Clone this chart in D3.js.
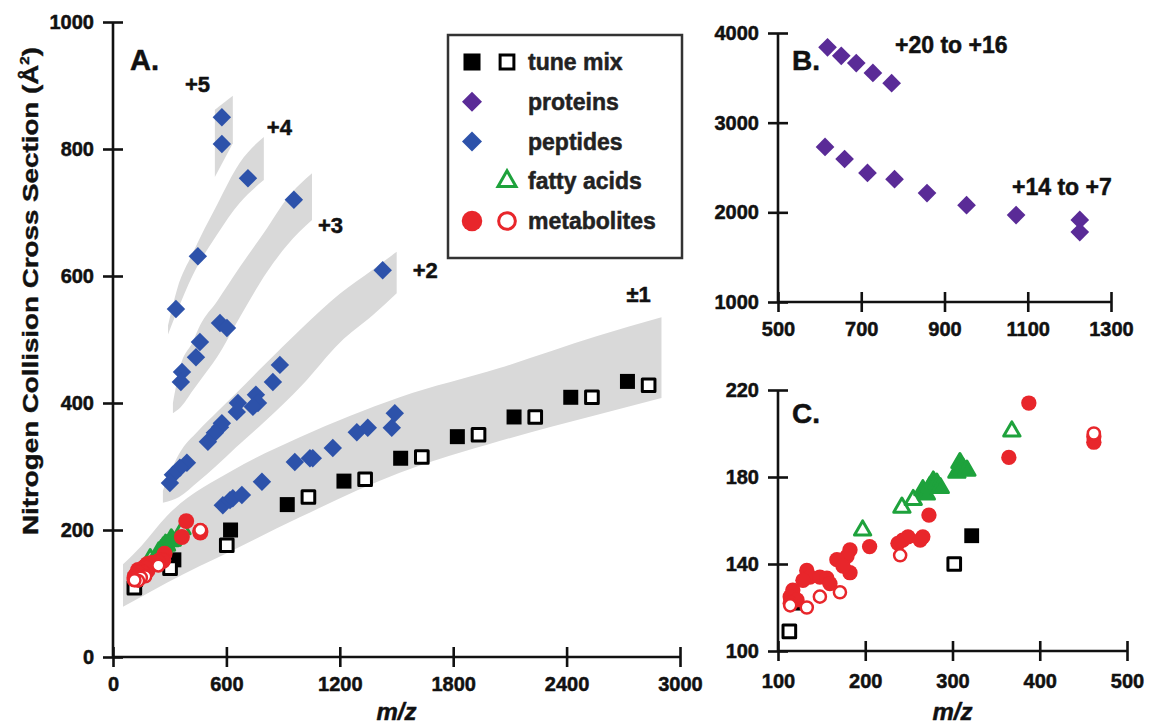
<!DOCTYPE html>
<html><head><meta charset="utf-8">
<script src="https://cdn.jsdelivr.net/npm/d3@7"></script>
<style>body{margin:0;background:#fff}</style>
</head><body>
<svg id="chart" width="1149" height="727"></svg>
<script>
// ---------------- DATA ----------------
// tune mix (filled = positive, open = negative): [m/z, CCS]
const tuneFilled = [[118,122],[322,153],[622,200],[922,240],[1222,277],[1522,313],[1822,347],[2122,378],[2422,409],[2722,434]];
const tuneOpen = [[113,109],[302,140],[602,176],[1034,252],[1334,280],[1634,315],[1934,350],[2234,378],[2534,409],[2834,428]];
// peptides (panel A)
const peptides5 = [[576,850],[576,808]];
const peptides4 = [[714,754],[449,631],[333,548]];
const peptides3 = [[957,720],[566,526],[603,518],[460,496],[439,472],[365,449],[359,433]];
const peptides2 = [[1427,609],[883,460],[846,433],[756,413],[767,400],[661,400],[655,386],[740,394],[576,368],[566,362],[539,353],[502,339],[391,306],[354,298],[317,287],[301,274]];
const peptides1 = [[581,239],[619,247],[634,250],[682,255],[788,276],[962,307],[1042,313],[1057,313],[1163,329],[1290,354],[1348,361],[1475,361],[1491,384]];
// proteins (panel B)
const proteinsHigh = [[619,3840],[652,3745],[688,3665],[728,3555],[773,3440]];
const proteinsLow = [[613,2730],[660,2595],[715,2440],[780,2370],[858,2215],[953,2080],[1072,1970],[1225,1915],[1225,1780]];
// fatty acids (isolated, open-looking) and (dense cluster, solid-looking)
const fattyAcids = [[368,201],[197,155.5],[242,166],[255,169.5]];
const fattyAcidsDense = [[266,174],[270,172],[274,175.5],[278,178],[282,177],[286,175],[305,182],[308.5,186.5],[312,184],[316.5,183]];
// metabolites
const metabFilled = [[387.5,214],[364.6,189],[462,198.5],[462,196],[273,162.5],[243,151],[249,152.5],[266,152.5],[263,151],[237.5,149.5],[205,148],[182.5,146.5],[179,143.5],[167.5,142],[182.5,136],[174.5,139],[133,137],[136.6,134],[148,134],[156,133.5],[159.5,131],[128.6,132.5],[117,128],[114,125],[121.8,123.5],[114,122]];
const metabOpen = [[240,144],[171,127],[148,125],[133,120],[114,121],[462,200]];
// trend bands: [m/z, lower CCS, upper CCS]
const band5 = [[539,756,862],[634,809,884]];
const band4 = [[291,508,522],[340,545,580],[420,600,635],[550,665,712],[670,715,778],[798,751,819]];
const band3 = [[317,384,400],[354,392,455],[423,420,497],[460,435,522],[550,472,560],[671,535,614],[814,606,675],[920,648,722],[1053,688,762]];
const band2 = [[264,243,262],[350,252,320],[450,276,356],[550,302,386],[650,330,415],[800,370,460],[1000,428,518],[1200,495,572],[1374,538,610],[1501,573,638]];
const band1 = [[53,79,146],[150,95,175],[285,117,222],[634,168,294],[988,220,346],[1517,290,409],[2045,340,455],[2558,381,505],[2902,408,535]];
// band labels: [text, m/z, CCS]
const bandLabels = [["+5",381,890],["+4",814,822],["+3",1084,668],["+2",1586,597],["\u00b11",2717,559]];
// ticks
const ticksAx = [0,600,1200,1800,2400,3000];
const ticksAy = [0,200,400,600,800,1000];
const ticksBx = [500,700,900,1100,1300];
const ticksBy = [1000,2000,3000,4000];
const ticksCx = [100,200,300,400,500];
const ticksCy = [100,140,180,220];
// legend
const legendItems = ["tune mix","proteins","peptides","fatty acids","metabolites"];

// ---------------- STYLE ----------------
const FONT = "'Liberation Sans', Arial, Helvetica, sans-serif";
const C = {blue:"#2d52aa", purple:"#5a2b97", red:"#e8262b", green:"#1ea23c", band:"#d9d9d9", ink:"#111"};

const svg = d3.select("#chart");

// scales
const xA = d3.scaleLinear().domain([0,3000]).range([113,680]);
const yA = d3.scaleLinear().domain([0,1000]).range([657,22]);
const xB = d3.scaleLinear().domain([500,1300]).range([778,1111]);
const yB = d3.scaleLinear().domain([1000,4000]).range([302,33]);
const xC = d3.scaleLinear().domain([100,500]).range([778,1127]);
const yC = d3.scaleLinear().domain([100,220]).range([651,390]);

function boldify(sel, sw) {
  return sel.attr("font-family", FONT).attr("font-weight", "bold").attr("fill", "#111")
    .attr("stroke", "#111").attr("stroke-width", sw).attr("stroke-linejoin", "round");
}

function drawAxes(g, x, y, tx, ty, padX) {
  const ax = g.append("g").attr("transform", `translate(0,${y.range()[0]})`)
    .call(d3.axisBottom(x).tickValues(tx).tickSize(10).tickPadding(padX).tickFormat(d3.format("d")));
  ax.selectAll(".tick line").attr("y1", -10);
  const ay = g.append("g").attr("transform", `translate(${x.range()[0]},0)`)
    .call(d3.axisLeft(y).tickValues(ty).tickSize(10).tickPadding(9).tickFormat(d3.format("d")));
  ay.selectAll(".tick line").attr("x1", 10);
  [ax, ay].forEach(a => {
    a.select(".domain").attr("stroke", C.ink).attr("stroke-width", 2.6);
    a.selectAll(".tick line").attr("stroke", C.ink).attr("stroke-width", 2.6);
    boldify(a.selectAll("text"), 0.5).attr("font-size", 20);
  });
  ax.select(".domain").attr("d", `M${x.range()[0]},0H${x.range()[1]}`);
  ay.select(".domain").attr("d", `M0,${y.range()[0]}V${y.range()[1]}`);
}

const sym = (type, size) => d3.symbol().type(type).size(size)();

function drawPoints(g, data, x, y, opt) {
  g.selectAll(null).data(data).enter().append("path")
    .attr("d", sym(opt.type, opt.size))
    .attr("transform", d => `translate(${x(d[0])},${y(d[1])})` + (opt.rotate ? " rotate(45)" : ""))
    .attr("fill", opt.fill).attr("stroke", opt.stroke || "none").attr("stroke-width", opt.sw || 0)
    .attr("stroke-linejoin", "round");
}

function text(g, s, x, y, size, opts = {}) {
  const t = g.append("text").attr("x", x).attr("y", y).text(s)
    .attr("font-size", size).attr("text-anchor", opts.anchor || "start")
    .attr("font-style", opts.italic ? "italic" : "normal");
  boldify(t, opts.sw === undefined ? 0.5 : opts.sw);
  if (opts.len) t.attr("textLength", opts.len).attr("lengthAdjust", "spacingAndGlyphs");
  return t;
}

// ---------------- PANEL A ----------------
const gA = svg.append("g");
const area = (x, y) => d3.area().x(d => x(d[0])).y0(d => y(d[1])).y1(d => y(d[2])).curve(d3.curveMonotoneX);
[band1, band2, band3, band4, band5].forEach(b => gA.append("path").attr("d", area(xA, yA)(b)).attr("fill", C.band));

drawPoints(gA, tuneFilled, xA, yA, {type: d3.symbolSquare, size: 225, fill: "#000"});
drawPoints(gA, tuneOpen, xA, yA, {type: d3.symbolSquare, size: 160, fill: "#fff", stroke: "#000", sw: 3});
const dia = (col, s) => ({type: d3.symbolSquare, size: s, fill: col, rotate: true});
[peptides5, peptides4, peptides3, peptides2, peptides1].forEach(p => drawPoints(gA, p, xA, yA, dia(C.blue, 170)));
drawPoints(gA, fattyAcids, xA, yA, {type: d3.symbolTriangle, size: 100, fill: "none", stroke: C.green, sw: 3});
drawPoints(gA, fattyAcidsDense, xA, yA, {type: d3.symbolTriangle, size: 100, fill: C.green, stroke: C.green, sw: 3});
drawPoints(gA, metabFilled, xA, yA, {type: d3.symbolCircle, size: 200, fill: C.red});
drawPoints(gA, metabOpen, xA, yA, {type: d3.symbolCircle, size: 110, fill: "#fff", stroke: C.red, sw: 2.5});

drawAxes(gA, xA, yA, ticksAx, ticksAy, 10);
bandLabels.forEach(l => text(gA, l[0], xA(l[1]), yA(l[2]), 22));
text(gA, "A.", 130, 70, 29);
text(gA, "m/z", (xA.range()[0] + xA.range()[1]) / 2, 720, 24, {anchor: "middle", italic: true});
const yt = gA.append("text").attr("transform", "translate(38,291) rotate(-90)").attr("text-anchor", "middle")
  .attr("font-size", 22).attr("textLength", 488).attr("lengthAdjust", "spacingAndGlyphs");
boldify(yt, 0.4);
yt.append("tspan").text("Nitrogen Collision Cross Section (Å");
yt.append("tspan").attr("dy", -9).attr("font-size", 12).text("2");
yt.append("tspan").attr("dy", 9).text(")");

// legend
const gL = svg.append("g");
gL.append("rect").attr("x", 448).attr("y", 35).attr("width", 234).attr("height", 223)
  .attr("fill", "#fff").attr("stroke", "#333").attr("stroke-width", 2.5);
const rowY = d3.scalePoint().domain(legendItems).range([62, 221]);
const lx1 = 472, lx2 = 507;
const L = (opt, x, item) => gL.append("path").attr("d", sym(opt.type, opt.size))
  .attr("transform", `translate(${x},${rowY(item)})` + (opt.rotate ? " rotate(45)" : ""))
  .attr("fill", opt.fill).attr("stroke", opt.stroke || "none").attr("stroke-width", opt.sw || 0);
L({type: d3.symbolSquare, size: 290, fill: "#000"}, lx1, "tune mix");
L({type: d3.symbolSquare, size: 190, fill: "#fff", stroke: "#000", sw: 3}, lx2, "tune mix");
L(dia(C.purple, 200), lx1, "proteins");
L(dia(C.blue, 200), lx1, "peptides");
L({type: d3.symbolTriangle, size: 140, fill: "none", stroke: C.green, sw: 3}, lx2, "fatty acids");
L({type: d3.symbolCircle, size: 330, fill: C.red}, lx1, "metabolites");
L({type: d3.symbolCircle, size: 220, fill: "none", stroke: C.red, sw: 3}, lx2, "metabolites");
legendItems.forEach(it => text(gL, it, 528, rowY(it) + 8, 23).attr("fill", "#222").attr("stroke", "#222"));

// ---------------- PANEL B ----------------
const gB = svg.append("g");
drawPoints(gB, proteinsHigh, xB, yB, dia(C.purple, 175));
drawPoints(gB, proteinsLow, xB, yB, dia(C.purple, 175));
drawAxes(gB, xB, yB, ticksBx, ticksBy, 10);
text(gB, "B.", 792, 70, 28);
text(gB, "+20 to +16", 895, 53, 23);
text(gB, "+14 to +7", 1012, 195, 23);

// ---------------- PANEL C ----------------
const gC = svg.append("g");
drawPoints(gC, [tuneFilled[0], tuneFilled[1]], xC, yC, {type: d3.symbolSquare, size: 220, fill: "#000"});
drawPoints(gC, [tuneOpen[0], tuneOpen[1]], xC, yC, {type: d3.symbolSquare, size: 160, fill: "#fff", stroke: "#000", sw: 3});
drawPoints(gC, metabFilled, xC, yC, {type: d3.symbolCircle, size: 185, fill: C.red});
drawPoints(gC, metabOpen, xC, yC, {type: d3.symbolCircle, size: 115, fill: "#fff", stroke: C.red, sw: 2.5});
drawPoints(gC, fattyAcids, xC, yC, {type: d3.symbolTriangle, size: 115, fill: "none", stroke: C.green, sw: 3});
drawPoints(gC, fattyAcidsDense, xC, yC, {type: d3.symbolTriangle, size: 115, fill: C.green, stroke: C.green, sw: 3});
drawAxes(gC, xC, yC, ticksCx, ticksCy, 13);
text(gC, "C.", 792, 423, 28);
text(gC, "m/z", (xC.range()[0] + xC.range()[1]) / 2, 720, 24, {anchor: "middle", italic: true});
</script>
</body></html>
